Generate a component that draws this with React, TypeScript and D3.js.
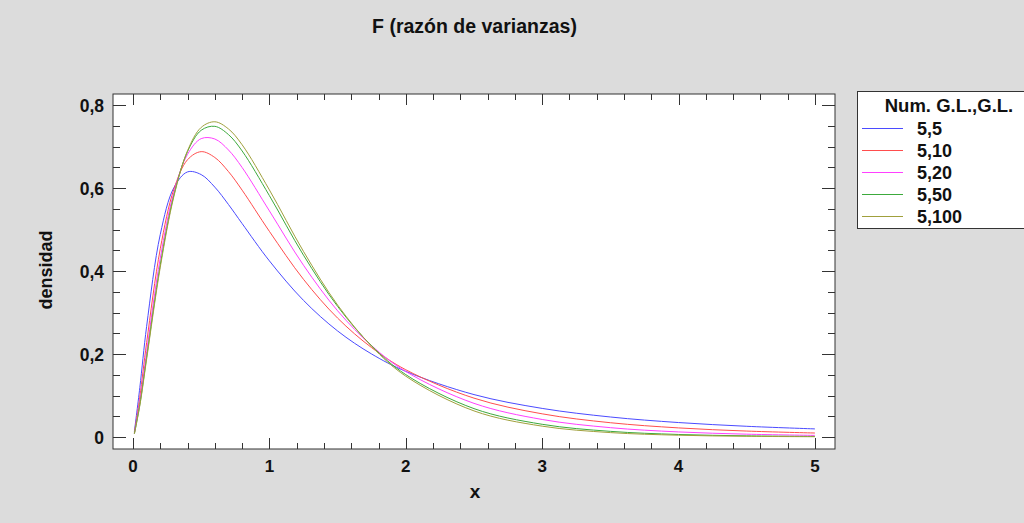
import React from "react";
import * as d3 from "d3";

const xs = [0.01, 0.05, 0.1, 0.2, 0.3, 0.4, 0.5, 0.6, 0.7, 0.8, 1.0, 1.25, 1.5, 1.75, 2.0, 2.5, 3.0, 3.5, 4.0, 4.5, 5.0];

const df5_5 = [0.0129, 0.119, 0.2667, 0.4882, 0.601, 0.6388, 0.6323, 0.602, 0.5602, 0.5143, 0.4244, 0.3292, 0.2555, 0.1999, 0.1581, 0.1022, 0.0689, 0.0482, 0.0348, 0.0258, 0.0195];
const df5_10 = [0.01, 0.0963, 0.2274, 0.4537, 0.5972, 0.6682, 0.6876, 0.6735, 0.6395, 0.5948, 0.4955, 0.3799, 0.2865, 0.2152, 0.162, 0.0936, 0.0558, 0.0344, 0.0219, 0.0143, 0.0096];
const df5_20 = [0.0086, 0.0849, 0.2059, 0.4309, 0.5899, 0.6813, 0.719, 0.7181, 0.6916, 0.6494, 0.5449, 0.4138, 0.3041, 0.2199, 0.1578, 0.0811, 0.0422, 0.0225, 0.0122, 0.0068, 0.0039];
const df5_50 = [0.0078, 0.078, 0.1924, 0.4149, 0.5829, 0.688, 0.7391, 0.7486, 0.7287, 0.6893, 0.5816, 0.4381, 0.3147, 0.2195, 0.1503, 0.0684, 0.0306, 0.0136, 0.0061, 0.0028, 0.0013];
const df5_100 = [0.0075, 0.0756, 0.1877, 0.4092, 0.5801, 0.69, 0.746, 0.7596, 0.7423, 0.7042, 0.5954, 0.4471, 0.318, 0.2184, 0.1465, 0.0629, 0.0261, 0.0106, 0.0043, 0.0017, 0.0007];

const seriesNames = ["5,5", "5,10", "5,20", "5,50", "5,100"];
const seriesValues = [df5_5, df5_10, df5_20, df5_50, df5_100];
const seriesColors = ["#4b4bff", "#ff4d4d", "#ff40ff", "#3caa3c", "#a0a03c"];

const xTicks = [0, 1, 2, 3, 4, 5];
const yTicks = [0, 0.2, 0.4, 0.6, 0.8];

const W = 1024;
const H = 523;
const L = 113, R = 835, T = 94, B = 449;

export default function App() {
  const x = d3.scaleLinear().domain([0, 5]).range([133, 815]);
  const y = d3.scaleLinear().domain([0, 0.8]).range([437, 105]);
  const line = d3
    .line<[number, number]>()
    .x((d) => x(d[0]))
    .y((d) => y(d[1]))
    .curve(d3.curveCatmullRom.alpha(0.5));

  const xMinor = d3.range(0, 5.0001, 0.2);
  const yMinor = d3.range(0, 0.8001, 0.05);
  const font = "'Liberation Sans', Arial, sans-serif";

  return (
    <svg width={W} height={H} style={{ position: "fixed", left: 0, top: 0, display: "block" }} fontFamily={font}>
      <rect x={0} y={0} width={W} height={H} fill="#dcdcdc" />
      <text x={474.5} y={33} textAnchor="middle" fontSize={19.5} fontWeight="bold" fill="#111">
        F (razón de varianzas)
      </text>
      <rect x={L} y={T} width={R - L} height={B - T} fill="#fff" stroke="#333" strokeWidth={1} />
      <g stroke="#333" strokeWidth={1}>
        {xMinor.map((v, i) => {
          const major = Math.abs(v - Math.round(v)) < 1e-6;
          const len = major ? 11 : 6;
          const px = Math.round(x(v)) + 0.5;
          return (
            <g key={"xm" + i}>
              <line x1={px} x2={px} y1={B} y2={B - len} />
              <line x1={px} x2={px} y1={T} y2={T + len} />
            </g>
          );
        })}
        {yMinor.map((v, i) => {
          const major = Math.abs(v * 5 - Math.round(v * 5)) < 1e-6;
          const len = major ? 13 : 7;
          const py = Math.round(y(v)) + 0.5;
          return (
            <g key={"ym" + i}>
              <line x1={L} x2={L + len} y1={py} y2={py} />
              <line x1={R} x2={R - len} y1={py} y2={py} />
            </g>
          );
        })}
      </g>
      {xTicks.map((v) => (
        <text key={"xt" + v} x={x(v)} y={472} textAnchor="middle" fontSize={17} fontWeight="bold" fill="#111">
          {String(v)}
        </text>
      ))}
      {yTicks.map((v) => (
        <text key={"yt" + v} x={104} y={y(v) + 6.5} textAnchor="end" fontSize={17.5} fontWeight="bold" fill="#111">
          {v === 0 ? "0" : v.toFixed(1).replace(".", ",")}
        </text>
      ))}
      <text x={475} y={498} textAnchor="middle" fontSize={19} fontWeight="bold" fill="#111">
        x
      </text>
      <text
        transform={`translate(52, 270) rotate(-90)`}
        textAnchor="middle"
        fontSize={18}
        fontWeight="bold"
        fill="#111"
      >
        densidad
      </text>
      <g>
        {seriesValues.map((vals, i) => (
          <path
            key={"s" + i}
            d={line(xs.map((xv, j) => [xv, vals[j]] as [number, number])) || ""}
            fill="none"
            stroke={seriesColors[i]}
            strokeWidth={1}
          />
        ))}
      </g>
      <g>
        <rect x={857.5} y={91.5} width={200} height={137} fill="#fff" stroke="#333" strokeWidth={1} />
        <text x={949} y={112} textAnchor="middle" fontSize={18.5} fontWeight="bold" fill="#111">
          Num. G.L.,G.L.
        </text>
        {seriesNames.map((n, i) => {
          const yy = 128 + i * 22;
          return (
            <g key={"lg" + i}>
              <line x1={862} x2={903} y1={yy + 0.5} y2={yy + 0.5} stroke={seriesColors[i]} strokeWidth={1} />
              <text x={917} y={yy + 6.5} fontSize={18} fontWeight="bold" fill="#111">
                {n}
              </text>
            </g>
          );
        })}
      </g>
    </svg>
  );
}
